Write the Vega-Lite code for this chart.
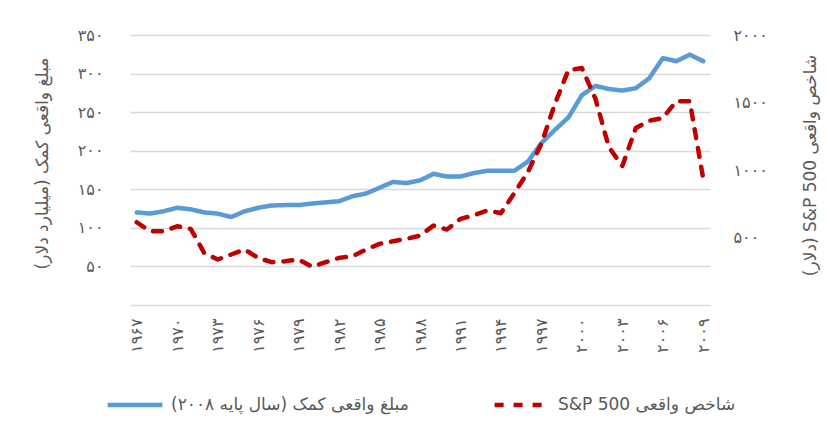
{
  "$schema": "https://vega.github.io/schema/vega-lite/v6.json",
  "width": 580,
  "height": 270,
  "autosize": {"type": "none"},
  "padding": {"left": 130, "top": 35, "right": 117, "bottom": 118},
  "background": "white",
  "config": {
    "view": {"stroke": null},
    "font": "DejaVu Sans",
    "axis": {"labelColor": "#595959", "titleColor": "#595959", "labelFontSize": 16, "titleFontSize": 17, "titleFontWeight": "normal"}
  },
  "data": {
    "values": [
      {"year": 1967, "aid": 120, "sp": 613},
      {"year": 1968, "aid": 118.5, "sp": 546},
      {"year": 1969, "aid": 121.5, "sp": 546},
      {"year": 1970, "aid": 126, "sp": 583},
      {"year": 1971, "aid": 124, "sp": 564},
      {"year": 1972, "aid": 120, "sp": 386},
      {"year": 1973, "aid": 118.5, "sp": 337},
      {"year": 1974, "aid": 114, "sp": 374},
      {"year": 1975, "aid": 121.5, "sp": 411},
      {"year": 1976, "aid": 126, "sp": 349},
      {"year": 1977, "aid": 129, "sp": 317},
      {"year": 1978, "aid": 129.5, "sp": 324},
      {"year": 1979, "aid": 129.5, "sp": 337},
      {"year": 1980, "aid": 131.5, "sp": 283},
      {"year": 1981, "aid": 133, "sp": 317},
      {"year": 1982, "aid": 134.5, "sp": 349},
      {"year": 1983, "aid": 141, "sp": 361},
      {"year": 1984, "aid": 144.5, "sp": 411},
      {"year": 1985, "aid": 152, "sp": 453},
      {"year": 1986, "aid": 159.5, "sp": 472},
      {"year": 1987, "aid": 158, "sp": 490},
      {"year": 1988, "aid": 161.5, "sp": 514},
      {"year": 1989, "aid": 170, "sp": 588},
      {"year": 1990, "aid": 166.5, "sp": 559},
      {"year": 1991, "aid": 166.5, "sp": 638},
      {"year": 1992, "aid": 171, "sp": 665},
      {"year": 1993, "aid": 174, "sp": 700},
      {"year": 1994, "aid": 174, "sp": 680},
      {"year": 1995, "aid": 174, "sp": 830},
      {"year": 1996, "aid": 186, "sp": 985},
      {"year": 1997, "aid": 210, "sp": 1195},
      {"year": 1998, "aid": 227, "sp": 1490},
      {"year": 1999, "aid": 243, "sp": 1740},
      {"year": 2000, "aid": 272, "sp": 1755},
      {"year": 2001, "aid": 284, "sp": 1530},
      {"year": 2002, "aid": 280, "sp": 1170},
      {"year": 2003, "aid": 278, "sp": 1030},
      {"year": 2004, "aid": 281, "sp": 1311},
      {"year": 2005, "aid": 294, "sp": 1365},
      {"year": 2006, "aid": 320, "sp": 1385},
      {"year": 2007, "aid": 316, "sp": 1509},
      {"year": 2008, "aid": 324.5, "sp": 1509},
      {"year": 2009, "aid": 316, "sp": 935}
    ]
  },
  "transform": [{"fold": ["aid", "sp"], "as": ["s", "v"]}],
  "encoding": {
    "x": {
      "field": "year",
      "type": "ordinal",
      "scale": {"type": "point", "padding": 0.5},
      "axis": {
        "title": null,
        "values": [1967, 1970, 1973, 1976, 1979, 1982, 1985, 1988, 1991, 1994, 1997, 2000, 2003, 2006, 2009],
        "labelAngle": -90,
        "labelPadding": 13,
        "ticks": false,
        "domain": false,
        "grid": false,
        "labelExpr": "replace(replace(replace(replace(replace(replace(replace(replace(replace(replace(datum.label,/0/g,'۰'),/1/g,'۱'),/2/g,'۲'),/3/g,'۳'),/4/g,'۴'),/5/g,'۵'),/6/g,'۶'),/7/g,'۷'),/8/g,'۸'),/9/g,'۹')"
      }
    },
    "color": {
      "field": "s",
      "type": "nominal",
      "scale": {"domain": ["aid", "sp"], "range": ["#5B9BD5", "#C00000"]},
      "legend": {
        "orient": "none",
        "legendX": -25,
        "legendY": 340,
        "direction": "horizontal",
        "title": null,
        "symbolType": "stroke",
        "symbolSize": 3000,
        "symbolStrokeWidth": 4.5,
        "labelFontSize": 17,
        "labelColor": "#595959",
        "labelLimit": 400,
        "columnPadding": 76,
        "labelOffset": 6,
        "labelExpr": "datum.label == 'aid' ? '\u202bمبلغ واقعی کمک (سال پایه ۲۰۰۸)\u202c' : '\u202bشاخص واقعی S&P 500\u202c'"
      }
    },
    "strokeDash": {
      "field": "s",
      "type": "nominal",
      "scale": {"domain": ["aid", "sp"], "range": [[1, 0], [9, 10]]},
      "legend": null
    }
  },
  "layer": [
    {
      "transform": [{"filter": "datum.s == 'aid'"}],
      "mark": {"type": "line", "strokeWidth": 4.5, "strokeCap": "round", "strokeJoin": "round"},
      "encoding": {
        "y": {
          "field": "v",
          "type": "quantitative",
          "scale": {"domain": [0, 350], "nice": false},
          "axis": {
            "title": "\u202bمبلغ واقعی کمک (میلیارد دلار)\u202c",
            "values": [0, 50, 100, 150, 200, 250, 300, 350],
            "format": "d",
            "grid": true,
            "gridColor": "#d9d9d9",
            "gridWidth": 1.5,
            "domain": false,
            "ticks": false,
            "labelPadding": 27,
            "titleX": -88,
            "titleY": 128,
            "titleAngle": -90,
            "titleAlign": "center",
            "titleBaseline": "middle",
            "labelExpr": "datum.value == 0 ? '' : replace(replace(replace(replace(replace(replace(replace(replace(replace(replace(datum.label,/0/g,'۰'),/1/g,'۱'),/2/g,'۲'),/3/g,'۳'),/4/g,'۴'),/5/g,'۵'),/6/g,'۶'),/7/g,'۷'),/8/g,'۸'),/9/g,'۹')"
          }
        }
      }
    },
    {
      "transform": [{"filter": "datum.s == 'sp'"}],
      "mark": {"type": "line", "strokeWidth": 4.5, "strokeCap": "round", "strokeJoin": "round"},
      "encoding": {
        "y": {
          "field": "v",
          "type": "quantitative",
          "scale": {"domain": [0, 2000], "nice": false},
          "axis": {
            "orient": "right",
            "title": "\u202bشاخص واقعی S&P 500 (دلار)\u202c",
            "values": [0, 500, 1000, 1500, 2000],
            "format": "d",
            "grid": false,
            "domain": false,
            "ticks": false,
            "labelPadding": 23,
            "titleX": 100,
            "titleY": 130,
            "titleAngle": -90,
            "titleAlign": "center",
            "titleBaseline": "middle",
            "labelExpr": "datum.value == 0 ? '' : replace(replace(replace(replace(replace(replace(replace(replace(replace(replace(datum.label,/0/g,'۰'),/1/g,'۱'),/2/g,'۲'),/3/g,'۳'),/4/g,'۴'),/5/g,'۵'),/6/g,'۶'),/7/g,'۷'),/8/g,'۸'),/9/g,'۹')"
          }
        }
      }
    }
  ],
  "resolve": {"scale": {"y": "independent"}}
}
